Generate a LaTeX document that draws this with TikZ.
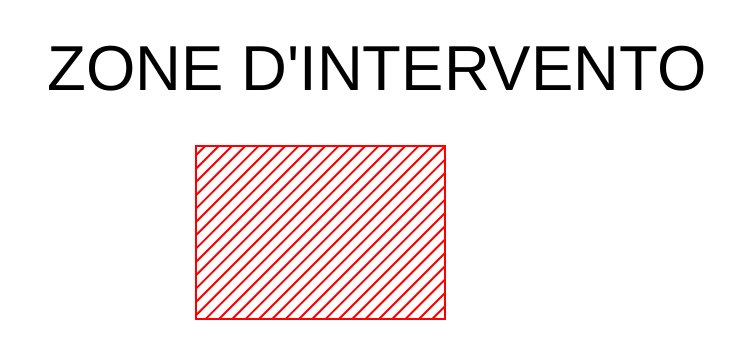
\documentclass[tikz,border=0pt]{standalone}
\usepackage{fontspec}
\setmainfont{Liberation Sans}
\usepackage{tikz}
\definecolor{zonered}{HTML}{FF0000}

\begin{document}
\begin{tikzpicture}[x=1pt, y=-1pt,
    title/.style={font=\fontsize{63.5}{70}\selectfont, inner sep=0pt, anchor=base},
    zone/.style={draw=zonered, line width=2.2pt},
    hatch/.style={draw=zonered, line width=1.9pt}
]
\useasboundingbox (0,0) rectangle (750,343);
\node[title] (title) at (377,90) {ZONE D\textquotesingle INTERVENTO};

% hatched area
\begin{scope}
  \clip (196,146) rectangle (445,319);
  \foreach \k in {0,...,32}
    \draw[hatch] ({338+13.33*\k-100},100) -- ({338+13.33*\k-400},400);
\end{scope}
\draw[zone] (196,146) rectangle (445,319);
\end{tikzpicture}
\end{document}
